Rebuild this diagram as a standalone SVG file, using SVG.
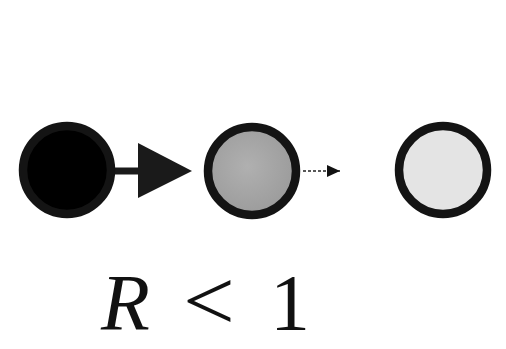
<svg xmlns="http://www.w3.org/2000/svg" width="506" height="349" viewBox="0 0 506 349">
<defs>
<style>
.node{stroke:#141414;stroke-width:8.5}
.lbl{font-family:"Liberation Serif","DejaVu Serif",serif;font-size:80px;fill:#111}
</style>
<radialGradient id="g2" cx="0.45" cy="0.45" r="0.6"><stop offset="0" stop-color="#b0b0b0"/><stop offset="1" stop-color="#9a9a9a"/></radialGradient>
<marker id="ah" viewBox="0 0 13 12" refX="13" refY="6" markerWidth="13" markerHeight="12" markerUnits="userSpaceOnUse" orient="auto"><path d="M0,0 L13,6 L0,12 Z" fill="#111"/></marker>
</defs>
<rect width="506" height="349" fill="#fff"/>
<g id="connectors">
<line x1="112" y1="171" x2="140" y2="171" stroke="#1a1a1a" stroke-width="7"/>
<polygon points="138,143 192,171 138,198" fill="#1a1a1a"/>
<line x1="303" y1="171" x2="340" y2="171" stroke="#222" stroke-width="1.5" stroke-dasharray="3,2" marker-end="url(#ah)"/>
</g>
<g id="n1"><circle cx="67" cy="170" r="44" fill="#000" class="node"/></g>
<g id="n2"><circle cx="252" cy="171" r="44" fill="url(#g2)" class="node"/></g>
<g id="n3"><circle cx="443" cy="170" r="44" fill="#e4e4e4" class="node"/></g>
<g id="label">
<text class="lbl" x="101" y="330" font-style="italic">R</text>
<text class="lbl" x="0" y="0" transform="translate(183,330) scale(1.15,1.08)">&lt;</text>
<text class="lbl" x="270" y="330">1</text>
</g>
</svg>
